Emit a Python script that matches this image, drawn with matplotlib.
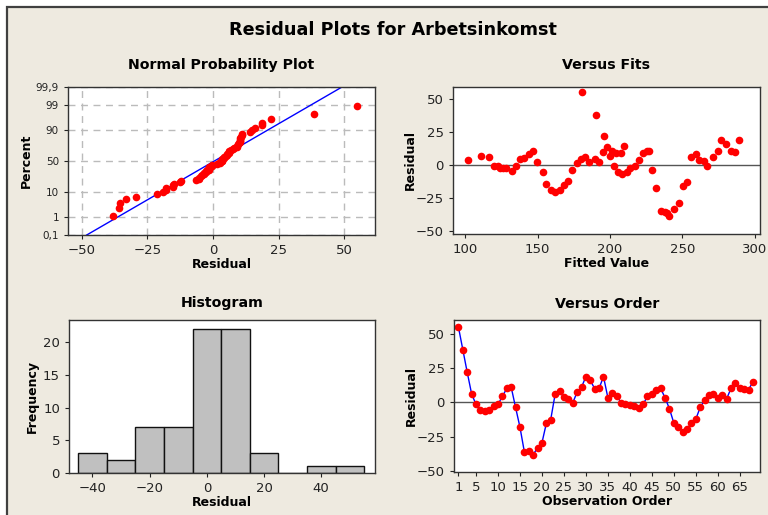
import numpy as np
import matplotlib
matplotlib.use('Agg')
import matplotlib.pyplot as plt
from matplotlib.patches import Rectangle
from matplotlib.ticker import NullLocator
from statistics import NormalDist

residuals = [55.0, 38.5, 22.0, 6.3, -1.5, -5.3, -6.3, -5.3, -2.6, -1.4,
             4.3, 10.2, 11.2, -3.6, -18.0, -36.0, -35.5, -38.0, -33.2, -29.5,
             -15.3, -12.5, 6.0, 8.0, 3.6, 2.6, -0.5, 7.5, 11.0, 18.8,
             16.0, 10.0, 10.2, 18.8, 3.4, 7.0, 5.0, -0.4, -1.4, -2.2,
             -2.6, -4.3, -1.4, 4.3, 6.3, 9.3, 10.2, 3.4, -4.6, -15.0,
             -18.0, -21.3, -19.2, -15.3, -12.2, -3.6, 1.5, 5.4, 6.3, 3.4,
             5.4, 2.5, 10.2, 14.0, 10.5, 9.5, 9.3, 15.0]
order = list(range(1, len(residuals) + 1))

# "Versus Fits" panel
fitted_values = [101.8, 111.0, 116.6, 120.0, 122.4, 124.2, 126.0, 128.3, 132.0, 135.0,
                 137.8, 140.6, 144.0, 146.8, 149.8, 153.5, 156.0, 159.0, 162.0, 165.4,
                 168.0, 171.0, 174.0, 177.4, 180.0, 181.0, 183.0, 185.7, 189.4, 190.3,
                 192.4, 195.0, 196.0, 197.7, 199.8, 201.6, 202.8, 204.4, 205.5, 207.4,
                 208.0, 209.7, 211.5, 214.0, 217.0, 220.0, 223.0, 225.6, 226.7, 229.0,
                 232.0, 235.0, 238.0, 239.6, 241.0, 244.0, 247.5, 250.5, 253.3, 255.8,
                 259.4, 261.7, 265.0, 267.3, 271.4, 274.4, 277.0, 280.0, 283.4, 286.4,
                 289.4]
fitted_resid = [3.5, 6.8, 5.8, -0.3, -1.0, -1.8, -2.5, -2.5, -4.5, -1.0,
                4.8, 5.5, 8.6, 10.3, 2.5, -5.5, -14.4, -18.6, -20.6, -18.6,
                -14.9, -11.8, -3.5, 1.5, 4.5, 55.0, 5.8, 2.3, 5.0, 38.0,
                2.5, 9.6, 21.7, 13.9, 6.8, 10.8, -1.0, 9.3, -5.3, 9.3,
                -6.5, 14.6, -5.3, -2.5, -1.0, 3.5, 9.0, 10.3, 10.3, -3.5,
                -17.6, -34.5, -35.3, -36.3, -38.0, -32.7, -28.5, -15.4, -12.6, 6.5,
                8.6, 3.5, 3.0, -0.3, 6.5, 10.6, 19.1, 15.9, 10.8, 9.8,
                19.1]

# histogram
hist_mid = [-40, -30, -20, -10, 0, 10, 20, 30, 40, 50]
hist_counts = [3, 2, 7, 7, 22, 22, 3, 0, 1, 1]

prob_ticks = [0.1, 1, 10, 50, 90, 99, 99.9]
prob_labels = ['0,1', '1', '10', '50', '90', '99', '99,9']

BG = '#EEEAE0'
W, H = 768, 515
nd = NormalDist()
_inv = np.vectorize(nd.inv_cdf, otypes=[float])
_cdf = np.vectorize(nd.cdf, otypes=[float])


def rect(l, t, r, b):
    return [l / W, 1 - b / H, (r - l) / W, (b - t) / H]


def probit(p):
    p = np.clip(np.asarray(p, dtype=float) / 100.0, 1e-9, 1 - 1e-9)
    return _inv(p)


def probit_inv(z):
    return _cdf(np.asarray(z, dtype=float)) * 100.0


def style(ax):
    for s in ax.spines.values():
        s.set_color('#333333')
        s.set_linewidth(1.0)
    ax.tick_params(direction='out', length=3, width=0.8, colors='#222222',
                   labelsize=9.5, top=False, right=False)


plt.rcParams['font.family'] = ['DejaVu Sans']

fig = plt.figure(figsize=(W / 100, H / 100), dpi=100, facecolor='white')
fig.patches.append(Rectangle((7 / W, -0.1), 1.1, 1.1 - 7 / H, transform=fig.transFigure,
                             facecolor=BG, edgecolor='#404040', linewidth=1.6, zorder=-5))

fig.text(0.511, 1 - 30 / H, 'Residual Plots for Arbetsinkomst', ha='center', va='center',
         fontsize=12.7, fontweight='bold')

# Normal probability plot
ax1 = fig.add_axes(rect(68, 87, 375, 235))
res = np.sort(np.array(residuals))
n = len(res)
pct = (np.arange(1, n + 1) - 0.3) / (n + 0.4) * 100
ax1.set_yscale('function', functions=(probit, probit_inv))
mu, sd = res.mean(), res.std(ddof=1)
zl = probit([0.1, 99.9])
ax1.plot(mu + sd * zl, [0.1, 99.9], color='#0000FF', linewidth=1)
ax1.plot(res, pct, 'o', color='#FF0000', markersize=5.5, markeredgewidth=0)
ax1.set_ylim(0.1, 99.9)
ax1.set_xlim(-55.3, 61.8)
ax1.set_yticks(prob_ticks)
ax1.set_yticklabels(prob_labels)
ax1.yaxis.set_minor_locator(NullLocator())
ax1.set_xticks([-50, -25, 0, 25, 50])
ax1.grid(True, color='#BBBBBB', linestyle=(0, (5, 4)), linewidth=1)
style(ax1)
ax1.tick_params(axis='y', labelsize=7.5)
ax1.set_title('Normal Probability Plot', fontsize=10.2, fontweight='bold', pad=13)
ax1.set_xlabel('Residual', fontsize=9, fontweight='bold', labelpad=1)
ax1.set_ylabel('Percent', fontsize=9, fontweight='bold', labelpad=2)

# Versus fits
ax2 = fig.add_axes(rect(453, 87, 760, 234))
ax2.axhline(0, color='#555555', linewidth=1)
ax2.plot(fitted_values, fitted_resid, 'o', color='#FF0000', markersize=5.5, markeredgewidth=0)
ax2.set_xlim(91.5, 303.7)
ax2.set_ylim(-51.9, 58.9)
ax2.set_xticks([100, 150, 200, 250, 300])
ax2.set_yticks([-50, -25, 0, 25, 50])
style(ax2)
ax2.set_title('Versus Fits', fontsize=10.2, fontweight='bold', pad=13)
ax2.set_xlabel('Fitted Value', fontsize=9, fontweight='bold', labelpad=1)
ax2.set_ylabel('Residual', fontsize=9, fontweight='bold', labelpad=-1)

# Histogram
ax3 = fig.add_axes(rect(69, 320, 375, 473))
ax3.bar(hist_mid, hist_counts, width=10, color='#C0C0C0', edgecolor='#111111', linewidth=1)
ax3.set_xlim(-48.2, 58.8)
ax3.set_ylim(0, 23.4)
ax3.set_xticks([-40, -20, 0, 20, 40])
ax3.set_yticks([0, 5, 10, 15, 20])
style(ax3)
ax3.set_title('Histogram', fontsize=10.2, fontweight='bold', pad=9)
ax3.set_xlabel('Residual', fontsize=9, fontweight='bold', labelpad=1)
ax3.set_ylabel('Frequency', fontsize=9, fontweight='bold', labelpad=3)

# Versus order
ax4 = fig.add_axes(rect(454, 320, 760, 472))
ax4.axhline(0, color='#555555', linewidth=1)
ax4.plot(order, residuals, '-', color='#0000FF', linewidth=1)
ax4.plot(order, residuals, 'o', color='#FF0000', markersize=5.5, markeredgewidth=0)
ax4.set_xlim(0.0, 69.6)
ax4.set_ylim(-50.7, 60)
ax4.set_xticks([1, 5, 10, 15, 20, 25, 30, 35, 40, 45, 50, 55, 60, 65])
ax4.set_yticks([-50, -25, 0, 25, 50])
style(ax4)
ax4.set_title('Versus Order', fontsize=10.2, fontweight='bold', pad=9)
ax4.set_xlabel('Observation Order', fontsize=9, fontweight='bold', labelpad=1)
ax4.set_ylabel('Residual', fontsize=9, fontweight='bold', labelpad=-0.5)

fig.savefig('out.png', dpi=100, facecolor=fig.get_facecolor())
